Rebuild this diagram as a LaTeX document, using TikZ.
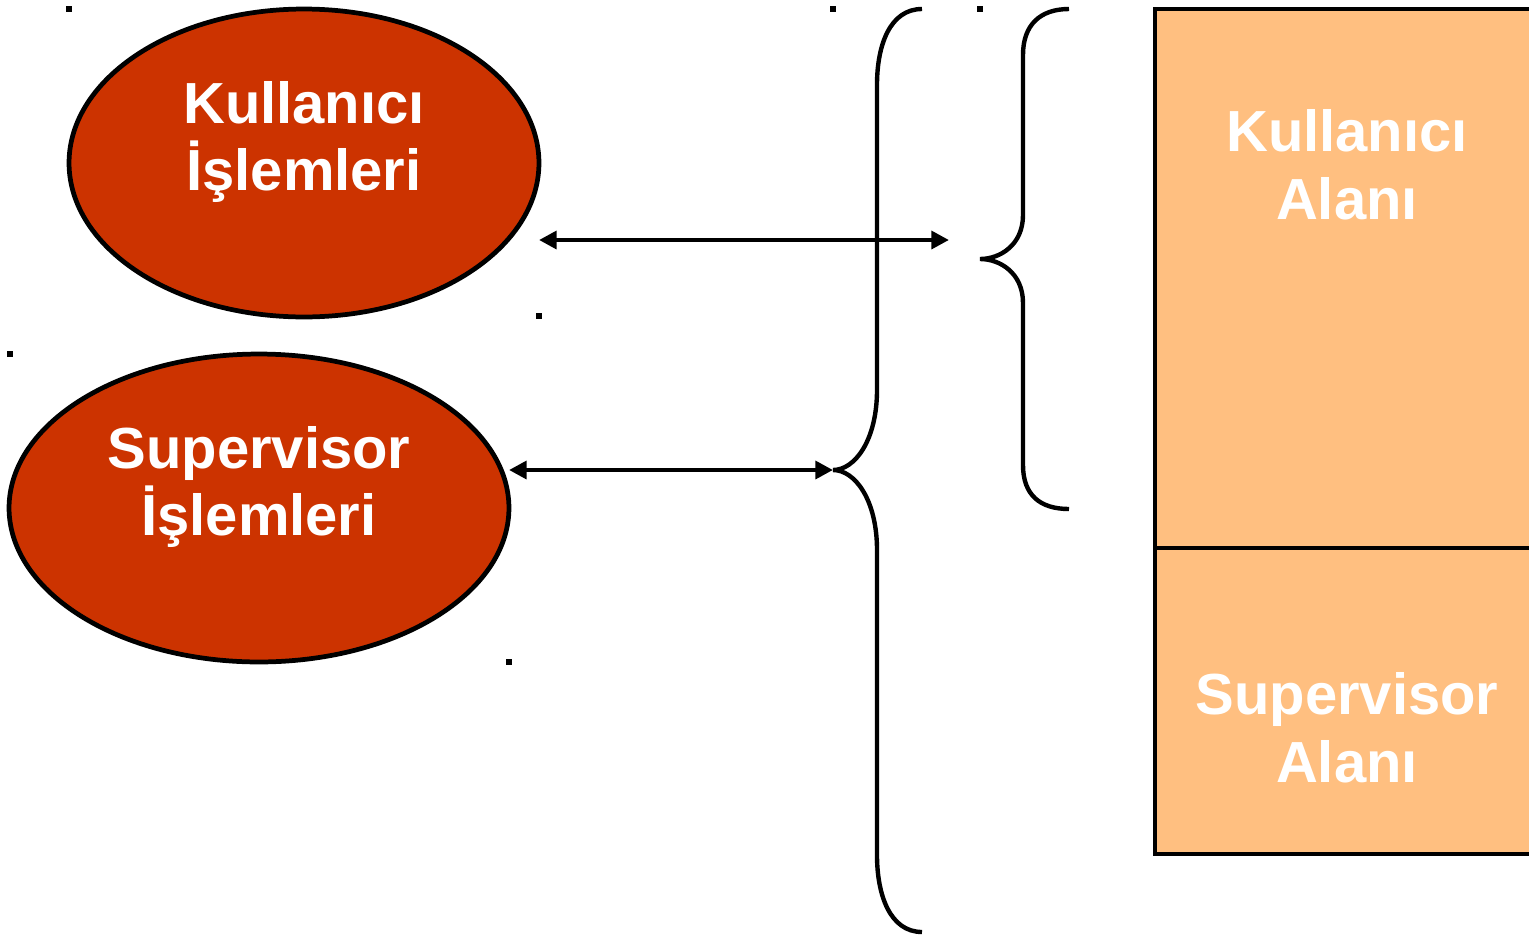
\documentclass[tikz,border=0pt]{standalone}
\usepackage{fontspec}
\setmainfont{Liberation Sans}
\usetikzlibrary{arrows.meta, shapes.geometric}
\definecolor{islemred}{HTML}{CC3300}
\definecolor{alanorange}{HTML}{FFBF80}
\tikzset{
    islem/.style={ellipse, draw=black, line width=2.7pt, fill=islemred, inner sep=0pt},
    etiket/.style={align=center, text=white, font=\fontsize{33}{38.5}\selectfont\bfseries},
    alan/.style={rectangle, draw=black, line width=2.7pt, fill=alanorange, inner sep=0pt},
    ayrac/.style={line width=2.5pt, draw=black},
    cift/.style={{Triangle[length=10pt, width=10pt]}-{Triangle[length=10pt, width=10pt]}, line width=2.5pt, draw=black},
    nokta/.style={fill=black, inner sep=0pt, minimum size=3pt, rectangle}
}

\begin{document}
\begin{tikzpicture}[x=0.02cm, y=-0.02cm]
        \useasboundingbox (0,0) rectangle (1529,934);
        % islemler
        \node[islem, minimum width=9.4cm, minimum height=6.16cm] (kullanici) at (304,163) {};
        \node[islem, minimum width=10cm, minimum height=6.16cm] (supervisor) at (259,508) {};
        \node[etiket] (kultext) at (304,142) {Kullanıcı\\İşlemleri};
        \node[etiket] (suptext) at (259,487) {Supervisor\\İşlemleri};
        % bellek alanlari
        \draw[alan] (1155,9) rectangle (1545,548);
        \draw[alan] (1155,548) rectangle (1545,854);
        \node[etiket] (kalan) at (1347,165) {Kullanıcı\\Alanı};
        \node[etiket] (salan) at (1347,728) {Supervisor\\Alanı};
        % ayraclar
        \coordinate (buyuk) at (833,470);
        \coordinate (kucuk) at (980,259);
        \draw[ayrac] (922,9) .. controls (890,9) and (877,45) .. (877,85) -- (877,390)
            .. controls (877,440) and (855,470) .. (buyuk)
            .. controls (855,470) and (877,500) .. (877,550) -- (877,855)
            .. controls (877,895) and (890,932) .. (922,932);
        \draw[ayrac] (1069,9) .. controls (1040,9) and (1023,25) .. (1023,55) -- (1023,215)
            .. controls (1023,245) and (1000,259) .. (kucuk)
            .. controls (1000,259) and (1023,273) .. (1023,303) -- (1023,465)
            .. controls (1023,495) and (1040,509) .. (1069,509);
        % oklar
        \coordinate (ok1) at (539,240);
        \coordinate (ok2) at (949,240);
        \coordinate (ok3) at (509,470);
        \draw[cift] (ok1) -- (ok2);
        \draw[cift] (ok3) -- (buyuk);
        % kose noktalari
        \foreach \p in {(69,9), (833,9), (980,9), (539,316), (10,354), (509,662)}
            \node[nokta] at \p {};
    \end{tikzpicture}
\end{document}
